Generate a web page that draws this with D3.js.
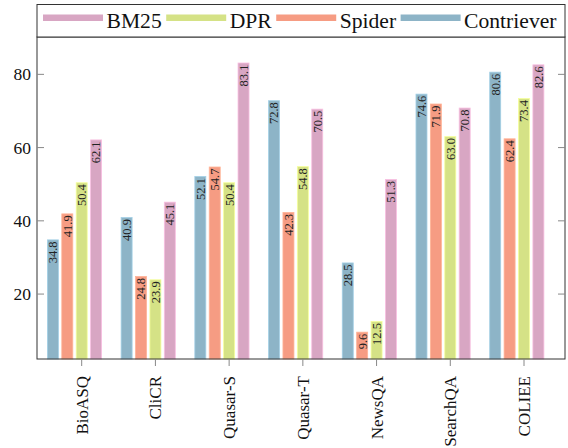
<!DOCTYPE html>
<html>
<head>
<meta charset="utf-8">
<script src="https://cdn.jsdelivr.net/npm/d3@7"></script>
<style>
  body { margin: 0; background: #fff; }
  svg { display: block; }
  text { font-family: "Liberation Serif", "Times New Roman", serif; fill: #111; }
</style>
</head>
<body>
<svg id="chart" width="568" height="448"></svg>
<script>
const categories = ["BioASQ", "CliCR", "Quasar-S", "Quasar-T", "NewsQA", "SearchQA", "COLIEE"];
const seriesNames = ["Contriever", "Spider", "DPR", "BM25"];
const contriever = [34.8, 40.9, 52.1, 72.8, 28.5, 74.6, 80.6];
const spider     = [41.9, 24.8, 54.7, 42.3, 9.6, 71.9, 62.4];
const dpr        = [50.4, 23.9, 50.4, 54.8, 12.5, 63.0, 73.4];
const bm25       = [62.1, 45.1, 83.1, 70.5, 51.3, 70.8, 82.6];
const yTicks = [20, 40, 60, 80];
const legendOrder = ["BM25", "DPR", "Spider", "Contriever"];
const colors = { Contriever: "#8db4c7", Spider: "#f69c83", DPR: "#d5e286", BM25: "#d8a6c3" };

const seriesValues = { Contriever: contriever, Spider: spider, DPR: dpr, BM25: bm25 };

const svg = d3.select("#chart");
const L = 37, R = 565, T = 37, B = 359;

const x = d3.scalePoint().domain(categories).range([81.7, 524]);
const y = d3.scaleLinear().domain([2.27, 90.2]).range([B, T]);
const step = 14.4, barW = 11;
const shift = d3.scaleOrdinal().domain(seriesNames).range([-2, -1, 0, 1]);

// bars
const g = svg.append("g");
seriesNames.forEach(s => {
  const vals = seriesValues[s];
  const sg = g.append("g");
  sg.selectAll("rect").data(categories).join("rect")
    .attr("x", (c) => x(c) + shift(s) * step - barW / 2)
    .attr("width", barW)
    .attr("y", (c, i) => y(vals[i]))
    .attr("height", (c, i) => B - y(vals[i]))
    .attr("fill", colors[s])
    .attr("stroke", d3.color(colors[s]).brighter(0.4))
    .attr("stroke-width", 0.8);
  sg.selectAll("text").data(categories).join("text")
    .attr("transform", (c, i) => `translate(${x(c) + shift(s) * step},${y(vals[i]) + 1.5}) rotate(-90)`)
    .attr("text-anchor", "end")
    .attr("dy", "0.35em")
    .style("font-size", "12.5px")
    .style("fill", "#222")
    .text((c, i) => vals[i].toFixed(1));
});

// frame
const frameColor = "#333";
svg.append("rect").attr("x", L).attr("y", T).attr("width", R - L).attr("height", B - T)
  .attr("fill", "none").attr("stroke", frameColor).attr("stroke-width", 1);

// y ticks (inward on left and right)
yTicks.forEach(t => {
  svg.append("line").attr("x1", L).attr("x2", L + 7).attr("y1", y(t)).attr("y2", y(t))
    .attr("stroke", "#888").attr("stroke-width", 1);
  svg.append("line").attr("x1", R - 7).attr("x2", R).attr("y1", y(t)).attr("y2", y(t))
    .attr("stroke", "#888").attr("stroke-width", 1);
  svg.append("text").attr("x", 31).attr("y", y(t)).attr("dy", "0.35em")
    .attr("text-anchor", "end").style("font-size", "17.5px").text(t);
});

// x ticks (outward)
categories.forEach(c => {
  svg.append("line").attr("x1", x(c)).attr("x2", x(c)).attr("y1", B).attr("y2", B + 7)
    .attr("stroke", "#888").attr("stroke-width", 1);
  svg.append("text")
    .attr("transform", `translate(${x(c)},${B + 17}) rotate(-90)`)
    .attr("text-anchor", "end").attr("dy", "0.35em")
    .style("font-size", "17px").text(c);
});

// legend
svg.append("rect").attr("x", L).attr("y", 4.5).attr("width", R - L).attr("height", T - 4.5)
  .attr("fill", "#fff").attr("stroke", frameColor).attr("stroke-width", 1);
let lx = 43;
legendOrder.forEach(s => {
  svg.append("line").attr("x1", lx).attr("x2", lx + 60).attr("y1", 17.7).attr("y2", 17.7)
    .attr("stroke", colors[s]).attr("stroke-width", 6.5);
  const t = svg.append("text").attr("x", lx + 63.5).attr("y", 27.5)
    .style("font-size", "21.6px").text(s);
  lx = lx + 63.5 + t.node().getComputedTextLength() + 4.5;
});
</script>
</body>
</html>
